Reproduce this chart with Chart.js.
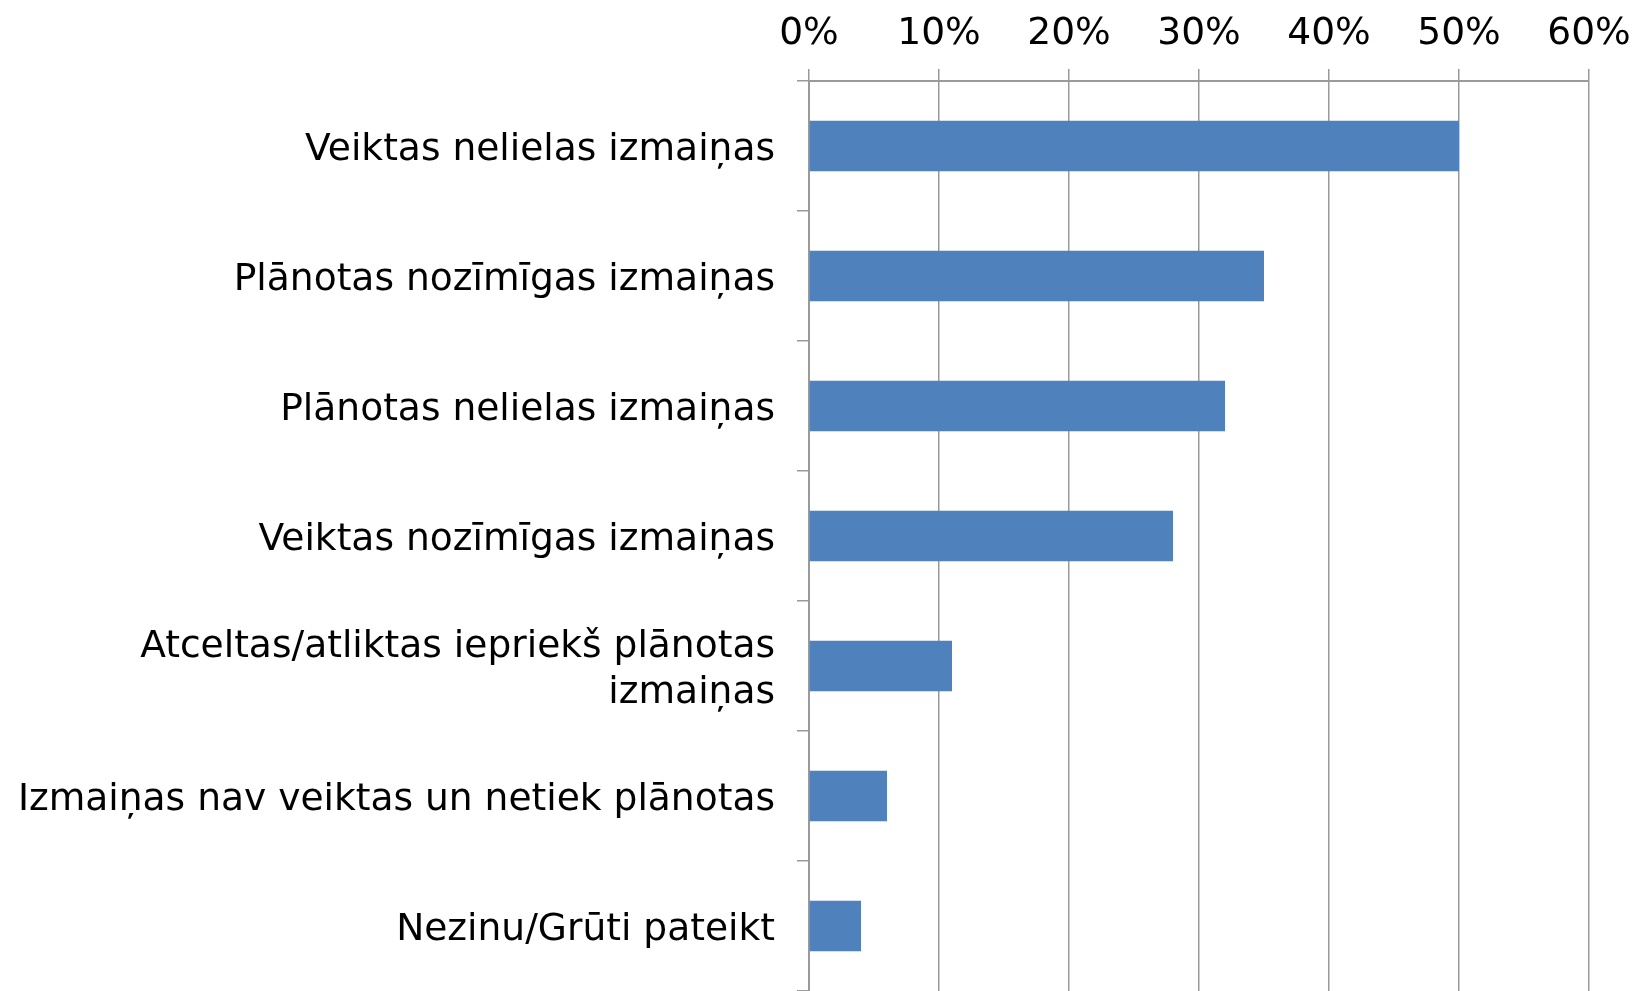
<!DOCTYPE html>
<html><head><meta charset="utf-8">
<script src="https://cdn.jsdelivr.net/npm/chart.js@4/dist/chart.umd.min.js"></script>
<style>html,body{margin:0;padding:0;background:#fff;overflow:hidden}#wrap{width:1634px;height:991px}</style>
</head><body><div id="wrap"><canvas id="c" width="1634" height="991"></canvas></div>
<script>
const categories = [
  'Veiktas nelielas izmaiņas',
  'Plānotas nozīmīgas izmaiņas',
  'Plānotas nelielas izmaiņas',
  'Veiktas nozīmīgas izmaiņas',
  ['Atceltas/atliktas iepriekš plānotas', 'izmaiņas'],
  'Izmaiņas nav veiktas un netiek plānotas',
  'Nezinu/Grūti pateikt'
];
const values = [50, 35, 32, 28, 11, 6, 4];
const xTicks = [0, 10, 20, 30, 40, 50, 60];

const gridColor = '#9a9a9a';
const font = {family: '"DejaVu Sans", sans-serif', size: 37.6};

new Chart(document.getElementById('c'), {
  type: 'bar',
  data: {
    labels: categories,
    datasets: [{
      data: values,
      backgroundColor: '#4F81BD',
      borderWidth: 0,
      barPercentage: 0.39,
      categoryPercentage: 1
    }]
  },
  options: {
    indexAxis: 'y',
    responsive: false,
    animation: false,
    layout: {padding: {left: 0, right: 45, top: 0, bottom: -2}},
    plugins: {legend: {display: false}, tooltip: {enabled: false}},
    scales: {
      x: {
        position: 'top',
        min: xTicks[0], max: xTicks[xTicks.length - 1],
        afterBuildTicks: s => { s.ticks = xTicks.map(v => ({value: v})); },
        afterFit: s => { s.height = 81; s.paddingLeft = 0; s.paddingRight = 0; },
        ticks: {color: '#000', font: font, padding: 12, callback: v => v + '%', maxRotation: 0},
        grid: {color: gridColor, lineWidth: 1.5, tickLength: 12, drawTicks: true},
        border: {color: gridColor, width: 2}
      },
      y: {
        afterFit: s => { s.width = 809; s.paddingTop = 0; s.paddingBottom = 0; },
        ticks: {color: '#000', font: Object.assign({lineHeight: 1.22}, font), padding: 22, labelOffset: 4},
        grid: {display: true, drawOnChartArea: false, color: gridColor, lineWidth: 1.5, tickLength: 12, offset: true},
        border: {color: gridColor, width: 2}
      }
    }
  }
});
</script></body></html>
